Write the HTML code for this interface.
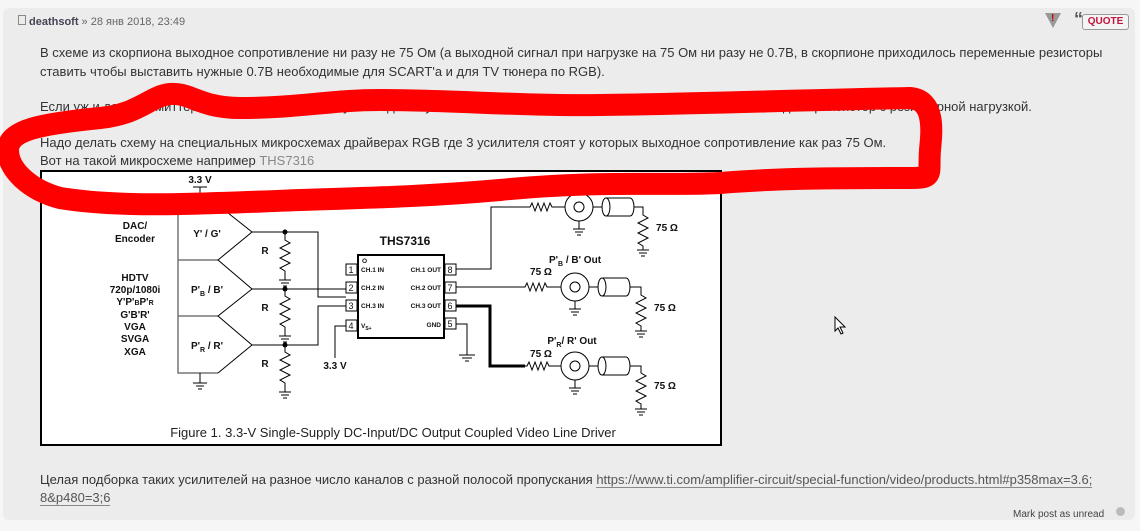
<!DOCTYPE html>
<html><head><meta charset="utf-8"><style>
body{margin:0;width:1140px;height:531px;background:#f6f6f6;font-family:"Liberation Sans","DejaVu Sans",sans-serif;overflow:hidden;position:relative}
.card{position:absolute;left:3px;top:8px;width:1132px;height:512px;background:#ececec;border-radius:6px}
.t{position:absolute;left:40px;font-size:13px;color:#333;white-space:nowrap}
a{color:#555;text-decoration:none;border-bottom:1px solid #888}
</style></head><body>
<div class="card"></div>
<div style="position:absolute;left:18px;top:15px;font-size:11px;color:#666;white-space:nowrap"><span style="display:inline-block;width:6px;height:8px;border:1px solid #888;margin-right:3px"></span><b style="color:#445">deathsoft</b> » 28 янв 2018, 23:49</div>
<div style="position:absolute;left:1045px;top:13px;width:0;height:0;border-left:8px solid transparent;border-right:8px solid transparent;border-top:15px solid #999"></div>
<div style="position:absolute;left:1051px;top:13px;font-size:10px;color:#c00;font-weight:bold">!</div>
<div style="position:absolute;left:1074px;top:10px;font-size:18px;color:#555;font-weight:bold;line-height:18px">“</div>
<div style="position:absolute;left:1082px;top:14px;width:45px;height:14px;border:1px solid #999;border-radius:3px;background:#f4f4f4;font-size:10px;color:#c0143c;font-weight:bold;text-align:center;line-height:14px">QUOTE</div>
<div class="t" style="top:45px">В схеме из скорпиона выходное сопротивление ни разу не 75 Ом (а выходной сигнал при нагрузке на 75 Ом ни разу не 0.7В, в скорпионе приходилось переменные резисторы</div>
<div class="t" style="top:64px">ставить чтобы выставить нужные 0.7В необходимые для SCART'а и для TV тюнера по RGB).</div>
<div class="t" style="top:99px">Если уж и делать эмиттерный повторитель, тогда уж не одна ступень, а не одна просто транзистор, не одна, а просто не один транзистор с резисторной нагрузкой.</div>
<div class="t" style="top:135px">Надо делать схему на специальных микросхемах драйверах RGB где 3 усилителя стоят у которых выходное сопротивление как раз 75 Ом.</div>
<div class="t" style="top:153px">Вот на такой микросхеме например <span style="color:#888">THS7316</span></div>
<div class="t" style="top:472px">Целая подборка таких усилителей на разное число каналов с разной полосой пропускания <a>https://www.ti.com/amplifier-circuit/special-function/video/products.html#p358max=3.6;</a></div>
<div class="t" style="top:490px"><a>8&amp;p480=3;6</a></div>
<div style="position:absolute;left:1013px;top:509px;font-size:10px;color:#444">Mark post as unread</div>
<div style="position:absolute;left:1116px;top:507px;width:9px;height:9px;border-radius:50%;background:#bbb"></div>

<svg style="position:absolute;left:0;top:0" width="1140" height="531" font-family="Liberation Sans, sans-serif">
<rect x="41" y="171" width="680" height="274" fill="#fff" stroke="#000" stroke-width="2"/>
<g stroke="#000" fill="none" stroke-width="1">
<path d="M200,187 V205 M193,187 H207"/>
<path d="M178,205 V373 H218 M178,260 H218 M178,316 H218" stroke="#777" stroke-width="1.5"/>
<path d="M218,205 L252,232 L218,260 L252,289 L218,316 L252,345 L218,373"/>
<path d="M200,373 V383 M193,383 H207 M196,386 H204 M198,389 H202"/>
<path d="M252,232 H318 V297 H346 M252,289 H346 M252,345 H318 V306 H346"/>
<path d="M285,232 V240 l5,3 -10,5 10,5 -10,5 10,5 -10,5 5,3 V280 M279,280 H291 M281,283 H289 M283,286 H287"/>
<path d="M285,289 V296 l5,3 -10,5 10,5 -10,5 10,5 -10,5 5,3 V336 M279,336 H291 M281,339 H289 M283,342 H287"/>
<path d="M285,345 V352 l5,3 -10,5 10,5 -10,5 10,5 -10,5 5,3 V392 M279,392 H291 M281,395 H289 M283,398 H287"/>
<path d="M346,326 H335 V358"/>
<rect x="358" y="255" width="86" height="83" stroke-width="2"/>
<rect x="346" y="264" width="11" height="11"/><rect x="346" y="282" width="11" height="11"/><rect x="346" y="300" width="11" height="11"/><rect x="346" y="320" width="11" height="11"/>
<rect x="445" y="264" width="11" height="11"/><rect x="445" y="282" width="11" height="11"/><rect x="445" y="300" width="11" height="11"/><rect x="445" y="318" width="11" height="11"/>
<path d="M456,324 H467 V355 M459,355 H475 M462,358 H472 M465,361 H469"/>
<path d="M456,269 H491 V207 H530 l2,-4 3,8 3,-8 3,8 3,-8 3,8 3,-8 2,4 H565"/>
<path d="M456,287 H525 l2,-4 3,8 3,-8 3,8 3,-8 3,8 3,-8 2,4 H561"/>
<path d="M456,306 H490 V366 H527 l2,-4 3,8 3,-8 3,8 3,-8 3,8 3,-8 2,4 H561" />
<path d="M456,306 H490 V366 H525" stroke-width="3"/>
<g><circle cx="579" cy="207" r="14"/><circle cx="579" cy="207" r="5"/><path d="M579,221 V229 M573,229 H585 M575,232 H583 M577,235 H581"/><path d="M593,207 H602"/><ellipse cx="606" cy="207" rx="4" ry="9"/><path d="M606,198 H630 M606,216 H630 M630,198 A4,9 0 0 1 630,216"/><path d="M634,207 H643 V215 l5,3 -10,5 10,5 -10,5 10,5 -10,5 5,3 V250 M637,250 H649 M639,253 H647 M641,256 H645"/></g>
<g><circle cx="575" cy="287" r="14"/><circle cx="575" cy="287" r="5"/><path d="M575,301 V309 M569,309 H581 M571,312 H579 M573,315 H577"/><path d="M589,287 H598"/><ellipse cx="602" cy="287" rx="4" ry="9"/><path d="M602,278 H626 M602,296 H626 M626,278 A4,9 0 0 1 626,296"/><path d="M630,287 H641 V295 l5,3 -10,5 10,5 -10,5 10,5 -10,5 5,3 V331 M635,331 H647 M637,334 H645 M639,337 H643"/></g>
<g><circle cx="575" cy="366" r="14"/><circle cx="575" cy="366" r="5"/><path d="M575,380 V388 M569,388 H581 M571,391 H579 M573,394 H577"/><path d="M589,366 H598"/><ellipse cx="602" cy="366" rx="4" ry="9"/><path d="M602,357 H626 M602,375 H626 M626,357 A4,9 0 0 1 626,375"/><path d="M630,366 H641 V373 l5,3 -10,5 10,5 -10,5 10,5 -10,5 5,3 V409 M635,409 H647 M637,412 H645 M639,415 H643"/></g>
</g>
<g fill="#000"><circle cx="285" cy="232" r="2.5"/><circle cx="285" cy="289" r="2.5"/><circle cx="285" cy="345" r="2.5"/></g>
<g font-size="10" font-weight="bold" fill="#111" text-anchor="middle">
<text x="200" y="183">3.3 V</text>
<text x="135" y="229">DAC/</text><text x="135" y="242">Encoder</text>
<text x="135" y="281">HDTV</text><text x="135" y="293">720p/1080i</text><text x="135" y="305">Y'P'<tspan font-size="7">B</tspan>P'<tspan font-size="7">R</tspan></text><text x="135" y="318">G'B'R'</text><text x="135" y="330">VGA</text><text x="135" y="342">SVGA</text><text x="135" y="355">XGA</text>
<text x="207" y="237">Y' / G'</text><text x="207" y="293">P'<tspan font-size="7" dy="3">B</tspan><tspan dy="-3"> / B'</tspan></text><text x="207" y="349">P'<tspan font-size="7" dy="3">R</tspan><tspan dy="-3"> / R'</tspan></text>
<text x="265" y="254">R</text><text x="265" y="311">R</text><text x="265" y="367">R</text>
<text x="405" y="245" font-size="12">THS7316</text>
<text x="335" y="369">3.3 V</text>
<text x="545" y="196">75 Ω</text><text x="541" y="275">75 Ω</text><text x="541" y="357">75 Ω</text>
<text x="667" y="231">75 Ω</text><text x="665" y="311">75 Ω</text><text x="665" y="389">75 Ω</text>
<text x="575" y="263">P'<tspan font-size="7" dy="3">B</tspan><tspan dy="-3"> / B' Out</tspan></text>
<text x="572" y="344">P'<tspan font-size="7" dy="3">R</tspan><tspan dy="-3">/ R' Out</tspan></text>
<text x="351" y="273" font-size="9" font-weight="normal">1</text><text x="351" y="291" font-size="9" font-weight="normal">2</text><text x="351" y="309" font-size="9" font-weight="normal">3</text><text x="351" y="329" font-size="9" font-weight="normal">4</text>
<text x="450" y="273" font-size="9" font-weight="normal">8</text><text x="450" y="291" font-size="9" font-weight="normal">7</text><text x="450" y="309" font-size="9" font-weight="normal">6</text><text x="450" y="327" font-size="9" font-weight="normal">5</text>
</g>
<g font-size="6.5" font-weight="bold" fill="#111">
<text x="362" y="263">O</text>
<text x="361" y="272">CH.1 IN</text><text x="361" y="290">CH.2 IN</text><text x="361" y="308">CH.3 IN</text><text x="361" y="328">V<tspan font-size="5" dy="2">S+</tspan></text>
<text x="441" y="272" text-anchor="end">CH.1 OUT</text><text x="441" y="290" text-anchor="end">CH.2 OUT</text><text x="441" y="308" text-anchor="end">CH.3 OUT</text><text x="441" y="327" text-anchor="end">GND</text>
</g>
<text x="393" y="437" font-size="13" fill="#222" text-anchor="middle">Figure 1. 3.3-V Single-Supply DC-Input/DC Output Coupled Video Line Driver</text>
<path d="M8,150 C8,130 40,124 100,118 C140,114 150,96 170,94 C190,92 200,108 240,108 C300,108 330,100 380,100 C450,100 520,106 600,105 C700,104 800,100 910,98 C935,100 932,130 930,150 C928,175 935,178 910,178 C840,178 780,178 720,183 C660,186 600,180 500,190 C420,197 360,198 300,200 C200,204 120,208 60,198 C30,190 8,170 8,150 Z" fill="none" stroke="#ff0000" stroke-width="22" stroke-linejoin="round"/>
</svg>
<svg style="position:absolute;left:834px;top:316px" width="14" height="20"><path d="M1,1 L1,15 L4,12 L7,18 L9,17 L6,11 L11,11 Z" fill="#fff" stroke="#000" stroke-width="1"/></svg>
</body></html>
